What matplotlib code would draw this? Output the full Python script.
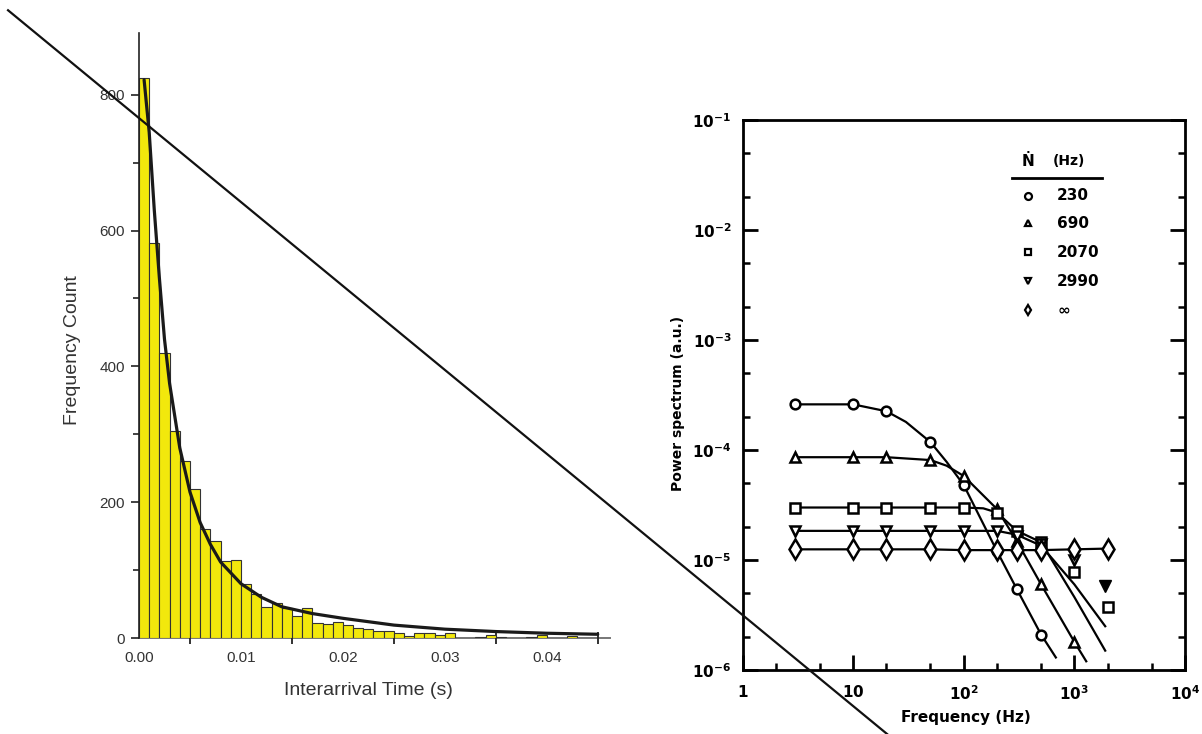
import matplotlib
matplotlib.use('Agg')
import matplotlib.pyplot as plt
from matplotlib.ticker import FixedLocator, NullFormatter, LogLocator
import numpy as np

# ---------------- left panel: histogram of interarrival times ----------------
bin_width = 0.001
counts = [825, 581, 419, 305, 261, 219, 160, 143, 114, 115,
          79, 65, 46, 52, 44, 32, 44, 22, 20, 23,
          19, 14, 13, 11, 11, 8, 3, 8, 8, 4,
          7, 0, 0, 1, 4, 1, 0, 0, 1, 4,
          0, 0, 3, 0, 0]
fit_x = [0.0005, 0.001, 0.0015, 0.002, 0.0025, 0.003, 0.004, 0.005, 0.006, 0.007,
         0.008, 0.010, 0.012, 0.014, 0.017, 0.020, 0.025, 0.030, 0.035, 0.040, 0.045]
fit_y = [822, 745, 630, 530, 440, 375, 280, 215, 170, 138,
         112, 80, 60, 46, 36, 29, 19, 13, 9.5, 7, 5.5]
hist_xticks = [0.00, 0.01, 0.02, 0.03, 0.04]
hist_xticklabels = ['0.00', '0.01', '0.02', '0.03', '0.04']
hist_yticks = [0, 200, 400, 600, 800]

# ---------------- right panel: power spectra (log-log) ----------------
f230 = [3, 10, 20, 50, 100, 200, 300, 500]
p230 = [2.6e-4, 2.6e-4, 2.25e-4, 1.18e-4, 4.8e-5, 1.2e-5, 5.5e-6, 2.1e-6]
l230_f = [3, 10, 20, 30, 50, 70, 100, 200, 300, 500, 680]
l230_p = [2.6e-4, 2.6e-4, 2.25e-4, 1.8e-4, 1.18e-4, 7.8e-5, 4.8e-5, 1.2e-5, 5.5e-6, 2.1e-6, 1.3e-6]

f690 = [3, 10, 20, 50, 100, 200, 300, 500, 1000]
p690 = [8.6e-5, 8.6e-5, 8.6e-5, 8.1e-5, 5.8e-5, 2.9e-5, 1.5e-5, 6.0e-6, 1.8e-6]
l690_f = [3, 10, 20, 50, 70, 100, 200, 300, 500, 1000, 1280]
l690_p = [8.6e-5, 8.6e-5, 8.6e-5, 8.1e-5, 7.2e-5, 5.8e-5, 2.9e-5, 1.5e-5, 6.0e-6, 1.8e-6, 1.2e-6]

f2070 = [3, 10, 20, 50, 100, 200, 300, 500, 1000, 2000]
p2070 = [3.0e-5, 3.0e-5, 3.0e-5, 3.0e-5, 3.0e-5, 2.7e-5, 1.85e-5, 1.45e-5, 7.7e-6, 3.7e-6]
l2070_f = [3, 100, 150, 200, 300, 500, 1000, 1900]
l2070_p = [3.0e-5, 3.0e-5, 2.95e-5, 2.7e-5, 1.85e-5, 1.45e-5, 4.6e-6, 1.5e-6]

f2990 = [3, 10, 20, 50, 100, 200, 300, 500, 1000]
p2990 = [1.84e-5, 1.84e-5, 1.84e-5, 1.84e-5, 1.84e-5, 1.84e-5, 1.65e-5, 1.4e-5, 1.0e-5]
f2990_filled = [1900]
p2990_filled = [5.8e-6]
l2990_f = [3, 200, 300, 500, 1000, 1900]
l2990_p = [1.84e-5, 1.84e-5, 1.7e-5, 1.35e-5, 6.0e-6, 2.5e-6]

finf = [3, 10, 20, 50, 100, 200, 300, 500, 1000, 2000]
pinf = [1.25e-5, 1.25e-5, 1.25e-5, 1.25e-5, 1.23e-5, 1.23e-5, 1.23e-5, 1.23e-5, 1.25e-5, 1.27e-5]

legend_labels = ['230', '690', '2070', '2990', '\u221e']
legend_markers = ['o', '^', 's', 'v', 'd']

spec_xticks = [1, 10, 100, 1000, 10000]
spec_xticklabels = [r'$\mathbf{1}$', r'$\mathbf{10}$', r'$\mathbf{10^{2}}$',
                    r'$\mathbf{10^{3}}$', r'$\mathbf{10^{4}}$']
spec_yticks = [1e-6, 1e-5, 1e-4, 1e-3, 1e-2, 1e-1]
spec_yticklabels = [r'$\mathbf{10^{-6}}$', r'$\mathbf{10^{-5}}$', r'$\mathbf{10^{-4}}$',
                    r'$\mathbf{10^{-3}}$', r'$\mathbf{10^{-2}}$', r'$\mathbf{10^{-1}}$']

# diagonal overlay line (figure fraction)
diag_x = [0.0067, 0.738]
diag_y = [0.986, 0.0]

# ------------------------------------------------------------------
W, H = 1202, 734
fig = plt.figure(figsize=(W / 100, H / 100), dpi=100)
fig.patch.set_facecolor('white')

# ---------- left histogram ----------
axL = fig.add_axes([139 / W, 96 / H, 471 / W, 605 / H])
bin_left = [i * bin_width for i in range(len(counts))]
axL.bar(bin_left, counts, width=bin_width, align='edge',
        color='#F2E80C', edgecolor='#333333', linewidth=0.8, zorder=2)
axL.plot(fit_x, fit_y, color='#1a1a1a', lw=2.3, zorder=3, solid_capstyle='round')
axL.set_xlim(0, 0.0462)
axL.set_ylim(0, 891)
for s in ['top', 'right']:
    axL.spines[s].set_visible(False)
axL.spines['left'].set_color('#222222')
axL.spines['left'].set_linewidth(1.2)
axL.spines['bottom'].set_color('#777777')
axL.spines['bottom'].set_linewidth(1.4)
axL.spines['bottom'].set_zorder(1)

axL.set_xticks(hist_xticks)
axL.set_xticklabels(hist_xticklabels)
axL.xaxis.set_minor_locator(FixedLocator([0.005, 0.015, 0.025, 0.035, 0.045]))
axL.tick_params(axis='x', which='major', length=0, pad=9, labelsize=11, labelcolor='#333333')
axL.tick_params(axis='x', which='minor', direction='inout', length=8, width=1.3, color='#222222')
axL.set_yticks(hist_yticks)
axL.yaxis.set_minor_locator(FixedLocator([100, 300, 500, 700]))
axL.tick_params(axis='y', which='major', direction='out', length=6, width=1.2,
                pad=4, labelsize=11, labelcolor='#333333', color='#222222')
axL.tick_params(axis='y', which='minor', direction='out', length=4, width=1.2, color='#222222')
for lab in axL.get_xticklabels() + axL.get_yticklabels():
    lab.set_family('Liberation Sans')

axL.set_xlabel('Interarrival Time (s)', fontsize=14, family='Liberation Sans', color='#333333')
axL.set_ylabel('Frequency Count', fontsize=14, family='Liberation Sans', color='#333333')
axL.xaxis.set_label_coords(0.488, -0.086)
axL.xaxis.label.set_va('center')
axL.yaxis.set_label_coords(-0.142, 0.476)
axL.yaxis.label.set_va('center')

# ---------- right spectrum ----------
axR = fig.add_axes([742.5 / W, 64 / H, 442.5 / W, 550 / H])
axR.set_xscale('log')
axR.set_yscale('log')
axR.set_xlim(1, 1e4)
axR.set_ylim(1e-6, 1e-1)

lw = 1.6
mk = dict(markerfacecolor='white', markeredgecolor='black', markeredgewidth=1.8,
          linestyle='none', zorder=4)
axR.plot(l230_f, l230_p, color='black', lw=lw, zorder=3)
axR.plot(l690_f, l690_p, color='black', lw=lw, zorder=3)
axR.plot(l2070_f, l2070_p, color='black', lw=lw, zorder=3)
axR.plot(l2990_f, l2990_p, color='black', lw=lw, zorder=3)
axR.plot(finf, pinf, color='black', lw=lw, zorder=3)

axR.plot(f230, p230, marker='o', markersize=7, **mk)
axR.plot(f690, p690, marker='^', markersize=7, **mk)
axR.plot(f2070, p2070, marker='s', markersize=7, **mk)
axR.plot(f2990, p2990, marker='v', markersize=7, **mk)
axR.plot(f2990_filled, p2990_filled, marker='v', markersize=8, linestyle='none',
         markerfacecolor='black', markeredgecolor='black', zorder=4)
axR.plot(finf, pinf, marker='d', markersize=10, **mk)

for s in axR.spines.values():
    s.set_linewidth(2.0)
    s.set_color('black')

axR.xaxis.set_major_locator(FixedLocator(spec_xticks))
axR.set_xticklabels(spec_xticklabels)
axR.xaxis.set_minor_locator(LogLocator(base=10, subs=(2.0, 5.0)))
axR.xaxis.set_minor_formatter(NullFormatter())
axR.yaxis.set_major_locator(FixedLocator(spec_yticks))
axR.set_yticklabels(spec_yticklabels)
axR.yaxis.set_minor_locator(LogLocator(base=10, subs=(2.0, 5.0)))
axR.yaxis.set_minor_formatter(NullFormatter())
axR.tick_params(axis='both', which='major', direction='in', length=11, width=2.0,
                labelsize=11, right=True, top=False)
axR.tick_params(axis='both', which='minor', direction='in', length=5, width=1.8,
                right=True, top=False)
axR.tick_params(axis='x', which='major', pad=10)
axR.tick_params(axis='y', which='major', pad=8)

axR.set_xlabel('Frequency (Hz)', fontsize=11, fontweight='bold', family='DejaVu Sans')
axR.set_ylabel('Power spectrum (a.u.)', fontsize=10, fontweight='bold', family='DejaVu Sans')
axR.xaxis.set_label_coords(0.505, -0.087)
axR.xaxis.label.set_va('center')
axR.yaxis.set_label_coords(-0.146, 0.485)
axR.yaxis.label.set_va('center')

# legend (hand made, as in the scan)
leg_mx = 0.645
leg_tx = 0.711
leg_y = [0.862, 0.812, 0.760, 0.707, 0.655]
axR.text(leg_mx, 0.925, '\u1e44', transform=axR.transAxes, ha='center', va='center',
         fontsize=11, fontweight='bold')
axR.text(0.700, 0.925, '(Hz)', transform=axR.transAxes, ha='left', va='center',
         fontsize=10, fontweight='bold')
axR.plot([0.609, 0.812], [0.895, 0.895], transform=axR.transAxes, color='black', lw=2.0)
for yy, lab, m in zip(leg_y, legend_labels, legend_markers):
    axR.plot([leg_mx], [yy], transform=axR.transAxes, marker=m, markersize=5,
             markerfacecolor='white', markeredgecolor='black', markeredgewidth=1.6)
    axR.text(leg_tx, yy, lab, transform=axR.transAxes, ha='left', va='center',
             fontsize=11, fontweight='bold')

# ---------- overlay diagonal line ----------
axO = fig.add_axes([0, 0, 1, 1], zorder=10)
axO.set_xlim(0, 1)
axO.set_ylim(0, 1)
axO.axis('off')
axO.patch.set_alpha(0)
axO.plot(diag_x, diag_y, color='#111111', lw=1.6)

fig.savefig('out.png', dpi=100, facecolor='white')
